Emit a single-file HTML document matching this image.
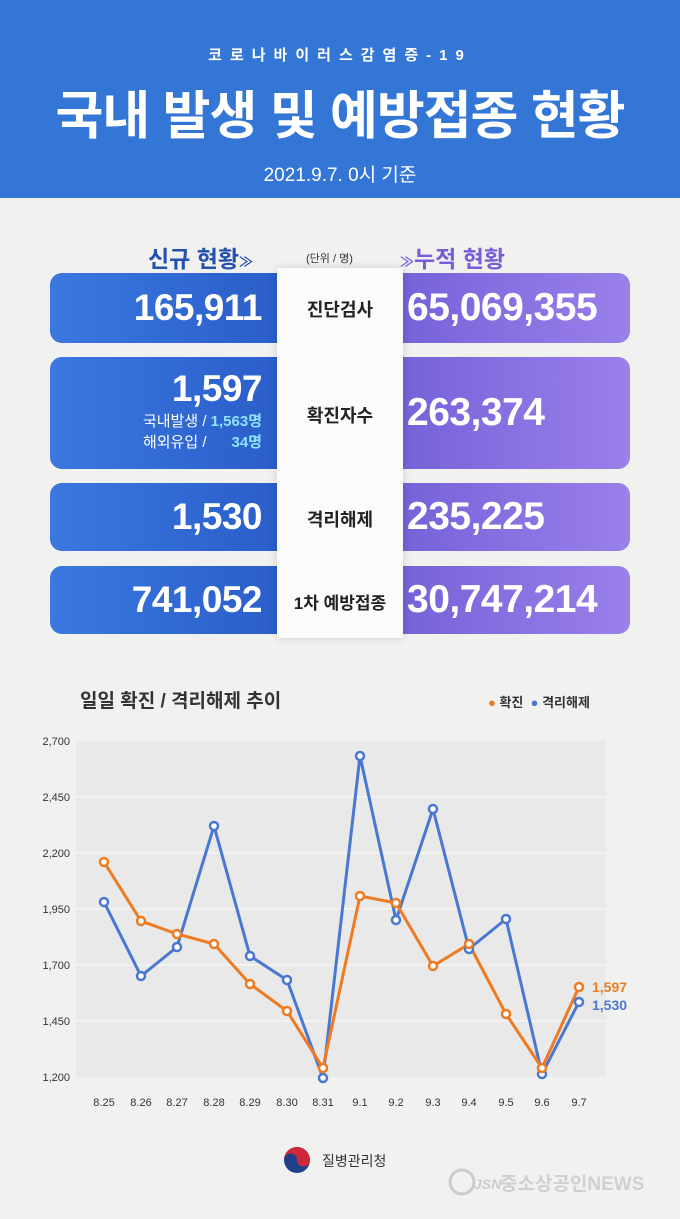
<!DOCTYPE html>
<html><head><meta charset="utf-8"><style>
*{margin:0;padding:0;box-sizing:border-box}
body{width:680px;height:1219px;background:#f1f1f0;font-family:"Liberation Sans","Noto Sans CJK KR",sans-serif;position:relative;overflow:hidden}
.hdr{position:absolute;left:0;top:0;width:680px;height:198px;background:#3376d6}
.t{position:absolute;left:0;width:680px;text-align:center;color:#fff}
.card{position:absolute;border-radius:12px;color:#fff;font-weight:bold}
.L{left:50px;width:240px;background:linear-gradient(90deg,#3a78e0,#2a5cc8);padding-right:28px;text-align:right}
.R{left:390px;width:240px;background:linear-gradient(90deg,#7560d8,#9a80ea);padding-left:17px}
.big{font-size:37px;letter-spacing:-0.5px}
.R.big,.R .big{font-size:39px}
.mid{position:absolute;left:277px;width:126px;top:268px;height:370px;background:#fbfbfb;box-shadow:0 0 8px rgba(0,0,0,.15)}
.lab{position:absolute;left:277px;width:126px;text-align:center;font-size:18px;font-weight:bold;color:#222}
</style></head><body>
<div class="hdr"></div>
<div class="t" style="top:44px;font-size:15px;font-weight:bold;letter-spacing:8px">코로나바이러스감염증-19</div>
<div class="t" style="top:74px;font-size:52px;font-weight:bold;letter-spacing:-1px">국내 발생 및 예방접종 현황</div>
<div class="t" style="top:160px;font-size:19px">2021.9.7. 0시 기준</div>

<div style="position:absolute;left:148px;top:240px;font-size:23px;font-weight:bold;color:#2450b0">신규 현황<span style="font-size:14px">≫</span></div>
<div style="position:absolute;left:306px;top:250px;font-size:11px;color:#333">(단위 / 명)</div>
<div style="position:absolute;left:400px;top:240px;font-size:23px;font-weight:bold;color:#7a5cd8"><span style="font-size:14px">≫</span>누적 현황</div>

<div class="card L big" style="top:273px;height:70px;line-height:70px">165,911</div>
<div class="card L" style="top:357px;height:112px"><div class="big" style="line-height:44px;margin-top:10px">1,597</div>
<div style="font-size:15px;font-weight:normal;line-height:21px">국내발생 / <b style="color:#8ee4ff">1,563명</b></div>
<div style="font-size:15px;font-weight:normal;line-height:21px">해외유입 / &nbsp;&nbsp;&nbsp;&nbsp;&nbsp;<b style="color:#8ee4ff">34명</b></div></div>
<div class="card L big" style="top:483px;height:68px;line-height:68px">1,530</div>
<div class="card L big" style="top:566px;height:68px;line-height:68px">741,052</div>

<div class="card R big" style="top:273px;height:70px;line-height:70px">65,069,355</div>
<div class="card R big" style="top:357px;height:112px;line-height:112px">263,374</div>
<div class="card R big" style="top:483px;height:68px;line-height:68px">235,225</div>
<div class="card R big" style="top:566px;height:68px;line-height:68px">30,747,214</div>

<div class="mid"></div>
<div class="lab" style="top:296px">진단검사</div>
<div class="lab" style="top:402px">확진자수</div>
<div class="lab" style="top:506px">격리해제</div>
<div class="lab" style="top:589px;font-size:17px">1차 예방접종</div>

<div style="position:absolute;left:80px;top:686px;font-size:19px;font-weight:bold;color:#333">일일 확진 / 격리해제 추이</div>
<div style="position:absolute;left:488px;top:692px;font-size:13px;color:#333;font-weight:bold"><span style="color:#ee7b22">●</span> 확진 &nbsp;<span style="color:#4a78d0">●</span> 격리해제</div>

<svg style="position:absolute;left:0;top:0" width="680" height="1219">
<rect x="76" y="741" width="530" height="336" fill="#e9e9e9"/>
<g stroke="#f6f6f6" stroke-width="1.5"><line x1="76" y1="797" x2="606" y2="797"/><line x1="76" y1="853" x2="606" y2="853"/><line x1="76" y1="909" x2="606" y2="909"/><line x1="76" y1="965" x2="606" y2="965"/><line x1="76" y1="1021" x2="606" y2="1021"/></g>
<g font-size="11" fill="#333" text-anchor="end" font-family="Liberation Sans"><text x="70" y="745">2,700</text><text x="70" y="801">2,450</text><text x="70" y="857">2,200</text><text x="70" y="913">1,950</text><text x="70" y="969">1,700</text><text x="70" y="1025">1,450</text><text x="70" y="1081">1,200</text></g>
<g font-size="11" fill="#333" text-anchor="middle" font-family="Liberation Sans"><text x="104" y="1106">8.25</text><text x="141" y="1106">8.26</text><text x="177" y="1106">8.27</text><text x="214" y="1106">8.28</text><text x="250" y="1106">8.29</text><text x="287" y="1106">8.30</text><text x="323" y="1106">8.31</text><text x="360" y="1106">9.1</text><text x="396" y="1106">9.2</text><text x="433" y="1106">9.3</text><text x="469" y="1106">9.4</text><text x="506" y="1106">9.5</text><text x="542" y="1106">9.6</text><text x="579" y="1106">9.7</text></g>
<polyline fill="none" stroke="#4a78d0" stroke-width="3" points="104,902 141,976 177,947 214,826 250,956 287,980 323,1078 360,756 396,920 433,809 469,949 506,919 542,1074 579,1002"/>
<polyline fill="none" stroke="#ee7b22" stroke-width="3" points="104,862 141,921 177,934 214,944 250,984 287,1011 323,1068 360,896 396,903 433,966 469,944 506,1014 542,1068 579,987"/>
<g fill="#fff" stroke="#4a78d0" stroke-width="2.5"><circle cx="104" cy="902" r="4"/><circle cx="141" cy="976" r="4"/><circle cx="177" cy="947" r="4"/><circle cx="214" cy="826" r="4"/><circle cx="250" cy="956" r="4"/><circle cx="287" cy="980" r="4"/><circle cx="323" cy="1078" r="4"/><circle cx="360" cy="756" r="4"/><circle cx="396" cy="920" r="4"/><circle cx="433" cy="809" r="4"/><circle cx="469" cy="949" r="4"/><circle cx="506" cy="919" r="4"/><circle cx="542" cy="1074" r="4"/><circle cx="579" cy="1002" r="4"/></g>
<g fill="#fff" stroke="#ee7b22" stroke-width="2.5"><circle cx="104" cy="862" r="4"/><circle cx="141" cy="921" r="4"/><circle cx="177" cy="934" r="4"/><circle cx="214" cy="944" r="4"/><circle cx="250" cy="984" r="4"/><circle cx="287" cy="1011" r="4"/><circle cx="323" cy="1068" r="4"/><circle cx="360" cy="896" r="4"/><circle cx="396" cy="903" r="4"/><circle cx="433" cy="966" r="4"/><circle cx="469" cy="944" r="4"/><circle cx="506" cy="1014" r="4"/><circle cx="542" cy="1068" r="4"/><circle cx="579" cy="987" r="4"/></g>
<text x="592" y="992" font-size="14" font-weight="bold" fill="#ee7b22" font-family="Liberation Sans">1,597</text>
<text x="592" y="1010" font-size="14" font-weight="bold" fill="#4a78d0" font-family="Liberation Sans">1,530</text>
<circle cx="297" cy="1160" r="13" fill="#1f3f8a"/><path d="M284,1160 a13,13 0 0 1 26,0 a6.5,6.5 0 0 1 -13,0 a6.5,6.5 0 0 0 -13,0z" fill="#d0283a"/>
<text x="322" y="1166" font-size="14" fill="#333" font-family="Liberation Sans,Noto Sans CJK KR,sans-serif">질병관리청</text>
<circle cx="462" cy="1182" r="12" fill="none" stroke="#ccc" stroke-width="3"/>
<text x="474" y="1189" font-size="14" font-weight="bold" fill="#ccc" font-style="italic" font-family="Liberation Sans">JSN</text>
<text x="500" y="1190" font-size="19" font-weight="bold" fill="#d0d0d0" font-family="Liberation Sans,Noto Sans CJK KR,sans-serif">중소상공인NEWS</text>
</svg>
</body></html>
